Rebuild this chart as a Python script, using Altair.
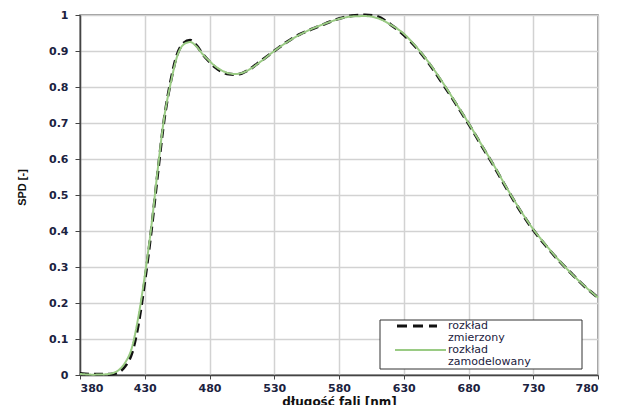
import altair as alt
import pandas as pd

wavelength = [380, 390, 400, 405, 410, 415, 420, 425, 430, 435, 440, 445, 450, 455, 460,
              465, 470, 475, 480, 485, 490, 495, 500, 505, 510, 520, 530, 540, 550, 560,
              570, 580, 590, 600, 610, 620, 630, 640, 650, 660, 670, 680, 690, 700, 710,
              720, 730, 740, 750, 760, 770, 780]

measured = [0.004, 0.002, 0.002, 0.003, 0.008, 0.025, 0.06, 0.14, 0.26, 0.40, 0.56, 0.71,
            0.815, 0.89, 0.922, 0.93, 0.915, 0.89, 0.87, 0.853, 0.842, 0.836, 0.835, 0.838,
            0.847, 0.873, 0.9, 0.926, 0.947, 0.962, 0.977, 0.99, 0.998, 1.0, 0.995, 0.973,
            0.945, 0.908, 0.863, 0.81, 0.755, 0.698, 0.638, 0.578, 0.515, 0.456, 0.403,
            0.358, 0.317, 0.28, 0.245, 0.215]

modeled = [0.003, 0.001, 0.002, 0.005, 0.014, 0.035, 0.075, 0.16, 0.275, 0.41, 0.57, 0.715,
           0.81, 0.885, 0.918, 0.925, 0.912, 0.89, 0.872, 0.856, 0.845, 0.838, 0.836, 0.839,
           0.847, 0.872, 0.9, 0.925, 0.946, 0.963, 0.977, 0.989, 0.996, 0.997, 0.991, 0.973,
           0.948, 0.91, 0.865, 0.813, 0.757, 0.70, 0.64, 0.58, 0.517, 0.458, 0.405, 0.36,
           0.318, 0.28, 0.246, 0.215]

series_names = ["rozkład zmierzony", "rozkład zamodelowany"]
legend_lines = [["rozkład", "zmierzony"], ["rozkład", "zamodelowany"]]
x_ticks = [380, 430, 480, 530, 580, 630, 680, 730, 780]
y_ticks = [0, 0.1, 0.2, 0.3, 0.4, 0.5, 0.6, 0.7, 0.8, 0.9, 1]

rows = []
for name, vals in zip(series_names, [measured, modeled]):
    for w, v in zip(wavelength, vals):
        rows.append({"wl": w, "spd": v, "series": name})
df = pd.DataFrame(rows)

lines = alt.Chart(df).mark_line(interpolate="monotone").encode(
    x=alt.X("wl:Q",
            scale=alt.Scale(domain=[380, 780], nice=False, zero=False),
            axis=alt.Axis(values=x_ticks, title="długość fali [nm]", format="d",
                          labelPadding=3, titlePadding=3, tickSize=4)),
    y=alt.Y("spd:Q",
            scale=alt.Scale(domain=[0, 1], nice=False),
            axis=alt.Axis(values=y_ticks, title="SPD [-]", format="~g",
                          tickSize=5, labelPadding=7,
                          titleAngle=270, titleX=-58, titleY=172,
                          titleBaseline="middle", titleAlign="center",
                          titleFont="Liberation Sans", titleFontWeight="bold",
                          titleFontSize=11)),
    color=alt.Color("series:N",
                    scale=alt.Scale(domain=series_names, range=["#111111", "#9acb84"]),
                    legend=None),
    strokeDash=alt.StrokeDash("series:N",
                              scale=alt.Scale(domain=series_names, range=[[9, 5], [1, 0]]),
                              legend=None),
    strokeWidth=alt.StrokeWidth("series:N",
                                scale=alt.Scale(domain=series_names, range=[3, 2]),
                                legend=None),
)

one = pd.DataFrame({"k": [0]})
legend_box = alt.Chart(one).mark_rect(fill="white", stroke="#333333", strokeWidth=1).encode(
    x=alt.value(300), x2=alt.value(502), y=alt.value(305), y2=alt.value(354))
leg_dash = alt.Chart(one).mark_rule(color="#111111", strokeWidth=3, strokeDash=[10, 6]).encode(
    x=alt.value(317), x2=alt.value(357), y=alt.value(311))
leg_green = alt.Chart(one).mark_rule(color="#9acb84", strokeWidth=2).encode(
    x=alt.value(315), x2=alt.value(366), y=alt.value(335))

text_layers = []
for i, pair in enumerate(legend_lines):
    for j, t in enumerate(pair):
        yy = 311 + i * 24 + j * 12
        text_layers.append(
            alt.Chart(one).mark_text(align="left", baseline="middle", font="DejaVu Sans",
                                     fontSize=11, color="#1b2240").encode(
                x=alt.value(368), y=alt.value(yy), text=alt.value(t)))

chart = alt.layer(lines, legend_box, leg_dash, leg_green, *text_layers).properties(
    width=518, height=360,
    autosize=alt.AutoSizeParams(type="none"),
    padding={"left": 72, "top": 7, "right": 16, "bottom": 30},
).configure_view(
    stroke="#777777", strokeWidth=1.5
).configure_axis(
    labelFont="DejaVu Sans", labelFontSize=11, labelFontWeight="bold", labelColor="#1b2240",
    domainColor="#444444", domainWidth=1.5, tickColor="#444444",
    gridColor="#d2d2d2", gridWidth=1.5,
    titleFont="DejaVu Sans", titleFontSize=12, titleFontWeight="bold", titleColor="#111111"
)

chart.save("out.html", embed_options={"renderer": "svg", "actions": False})
